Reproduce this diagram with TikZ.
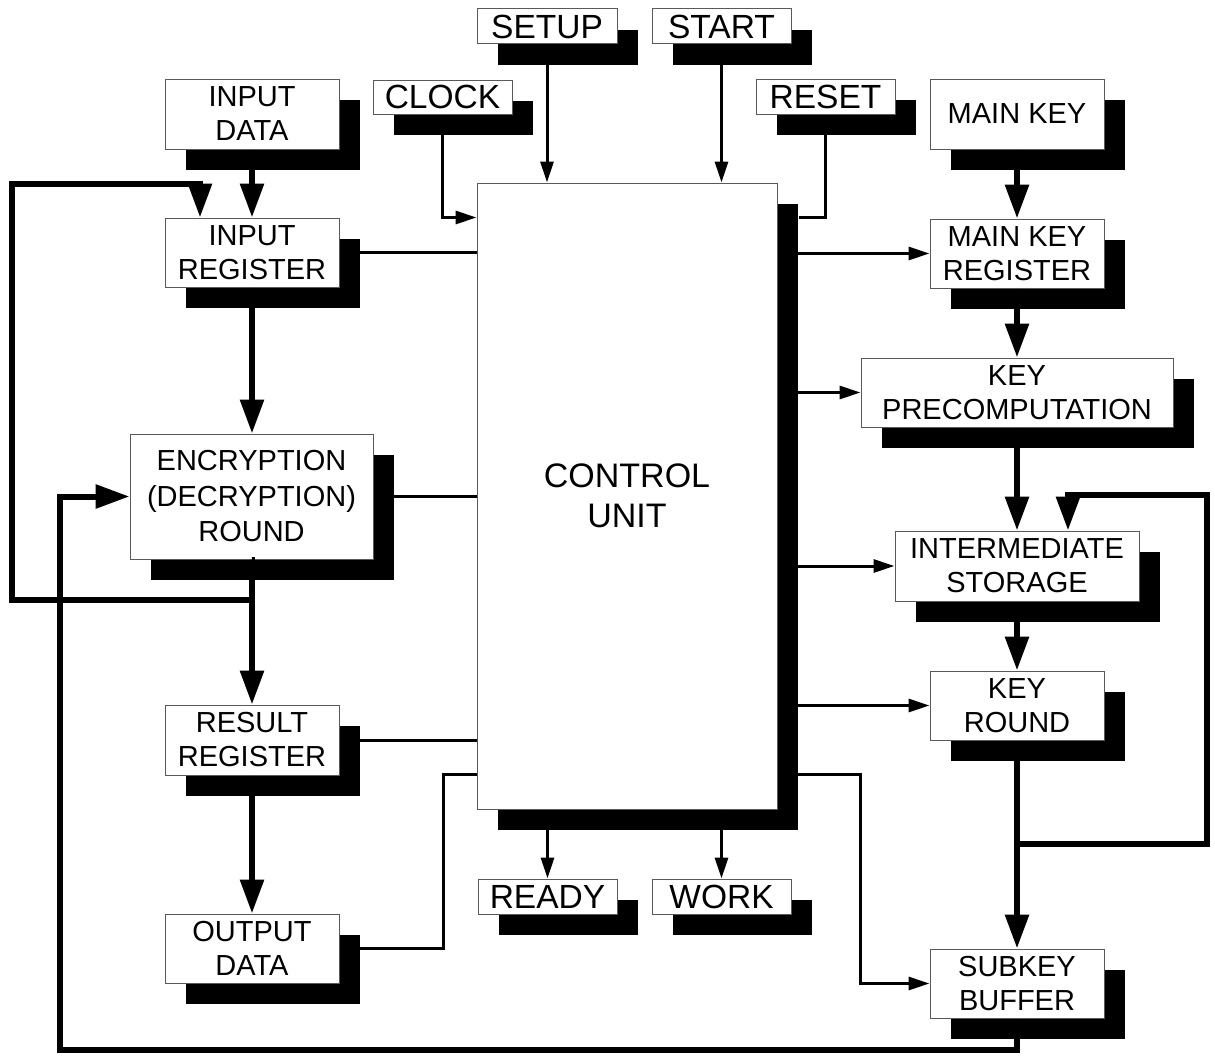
\documentclass[tikz,border=0pt]{standalone}
\usepackage{fontspec}
\setmainfont{Liberation Sans}
\usetikzlibrary{arrows.meta,shadows,calc}
\begin{document}
\begin{tikzpicture}[x=1pt,y=-1pt,
  blk/.style={draw=black!65, line width=1pt, fill=white, inner sep=0pt, align=center,
     general shadow={fill=black, shadow xshift=21pt, shadow yshift=-21pt},
     font=\fontsize{29}{34}\selectfont},
  sig/.style={blk, font=\fontsize{33.5}{38}\selectfont},
  thinln/.style={line width=3pt},
  thinarr/.style={line width=3pt, -{Triangle[length=21pt,width=13pt]}},
  thickln/.style={line width=6pt},
  thickarr/.style={line width=6pt, -{Triangle[length=34pt,width=23pt]}},
]
\useasboundingbox[fill=white] (0,0) rectangle (1215,1057);

% left column
\node[blk, minimum width=174pt, minimum height=70pt] (indata) at (252,114) {INPUT\\DATA};
\node[blk, minimum width=174pt, minimum height=69pt] (inreg) at (252,252.5) {INPUT\\REGISTER};
\node[blk, minimum width=243pt, minimum height=125pt, font=\fontsize{29}{35.5}\selectfont] (enc) at (251.5,496.5) {ENCRYPTION\\(DECRYPTION)\\ROUND};
\node[blk, minimum width=174pt, minimum height=70pt] (resreg) at (252,740) {RESULT\\REGISTER};
\node[blk, minimum width=174pt, minimum height=69pt] (outdata) at (252,948.5) {OUTPUT\\DATA};

% control signals
\node[sig, minimum width=139pt, minimum height=34pt] (clock) at (442.5,97) {CLOCK};
\node[sig, minimum width=140pt, minimum height=35pt] (setup) at (547,26.5) {SETUP};
\node[sig, minimum width=139pt, minimum height=35pt] (start) at (721.5,26.5) {START};
\node[sig, minimum width=139pt, minimum height=35pt] (reset) at (825.5,96.5) {RESET};
\node[sig, minimum width=139pt, minimum height=35pt] (ready) at (547.5,896.5) {READY};
\node[sig, minimum width=139pt, minimum height=35pt] (work) at (721.5,896.5) {WORK};

% control unit
\node[blk, minimum width=300pt, minimum height=626pt, font=\fontsize{34}{40}\selectfont] (ctrl) at (627,496) {CONTROL\\UNIT};

% right column
\node[blk, minimum width=174pt, minimum height=70pt] (mainkey) at (1017,114) {MAIN KEY};
\node[blk, minimum width=174pt, minimum height=69pt] (mkreg) at (1017,253.5) {MAIN KEY\\REGISTER};
\node[blk, minimum width=312pt, minimum height=69pt] (keypre) at (1017,392.5) {KEY\\PRECOMPUTATION};
\node[blk, minimum width=244pt, minimum height=70pt] (inter) at (1017,566) {INTERMEDIATE\\STORAGE};
\node[blk, minimum width=174pt, minimum height=69pt] (keyround) at (1017,705.5) {KEY\\ROUND};
\node[blk, minimum width=174pt, minimum height=69pt] (subkey) at (1017,983.5) {SUBKEY\\BUFFER};

% helper coordinates
\coordinate (j1) at (252,600);
\coordinate (fbL) at (12,184);
\coordinate (blc) at (60,1050);
\coordinate (j2) at (1017,844);
\coordinate (rtc) at (1207,495);
\coordinate (skc) at (860,774);
\coordinate (odc) at (443,774);

% thick data paths, left
\draw[thickarr] (indata.south) -- (inreg.north);
\draw[thickarr] (inreg.south) -- (inreg.south |- enc.north);
\draw[thickarr] (enc.south) -- (enc.south -| resreg.north) -- (resreg.north);
\draw[thickarr] (resreg.south) -- (outdata.north);
\draw[thickarr] (j1) -| (fbL) -| ([xshift=-52pt]inreg.north);
\draw[thickarr] (subkey.south) |- (blc) |- (enc.west);

% thick data paths, right
\draw[thickarr] (mainkey.south) -- (mkreg.north);
\draw[thickarr] (mkreg.south) -- (keypre.north);
\draw[thickarr] (keypre.south) -- (inter.north);
\draw[thickarr] (inter.south) -- (keyround.north);
\draw[thickarr] (keyround.south) -- (subkey.north);
\draw[thickarr] (j2) -| (rtc) -| ([xshift=51pt]inter.north);

% thin control lines
\draw[thinarr] (clock.south) |- ($(ctrl.north west)+(0,35)$);
\draw[thinarr] (setup.south) -- (setup.south |- ctrl.north);
\draw[thinarr] (start.south) -- (start.south |- ctrl.north);
\draw[thinln] (reset.south) |- ($(ctrl.north east)+(21,35)$);
\draw[thinarr] (ctrl.east |- mkreg.west) -- (mkreg.west);
\draw[thinarr] (ctrl.east |- keypre.west) -- (keypre.west);
\draw[thinarr] (ctrl.east |- inter.west) -- (inter.west);
\draw[thinarr] (ctrl.east |- keyround.west) -- (keyround.west);
\draw[thinarr] (ctrl.east |- skc) -- (skc) |- (subkey.west);
\draw[thinln] (inreg.east) -- (inreg.east -| ctrl.west);
\draw[thinln] (enc.east) -- (enc.east -| ctrl.west);
\draw[thinln] (resreg.east) -- (resreg.east -| ctrl.west);
\draw[thinln] (outdata.east) -| (odc) -- (odc -| ctrl.west);
\draw[thinarr] (ready.north |- ctrl.south) -- (ready.north);
\draw[thinarr] (work.north |- ctrl.south) -- (work.north);
\end{tikzpicture}
\end{document}
